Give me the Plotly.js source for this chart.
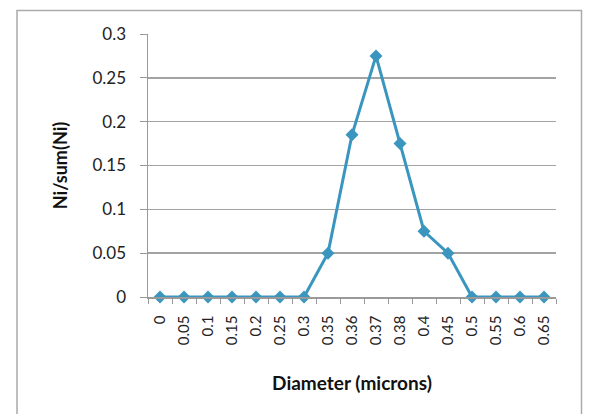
<!DOCTYPE html>
<html>
<head>
<meta charset="utf-8">
<script src="https://cdn.plot.ly/plotly-3.0.1.min.js"></script>
<style>
html,body{margin:0;padding:0;background:#fff;}
#chart{width:590px;height:414px;}
</style>
</head>
<body>
<div id="chart"></div>
<script>
var diameters = ['0','0.05','0.1','0.15','0.2','0.25','0.3','0.35','0.36','0.37','0.38','0.4','0.45','0.5','0.55','0.6','0.65'];
var fractions = [0,0,0,0,0,0,0,0.05,0.185,0.275,0.175,0.075,0.05,0,0,0,0];
var yTicks = [0,0.05,0.1,0.15,0.2,0.25,0.3];
var yTickText = ['0','0.05','0.1','0.15','0.2','0.25','0.3'];

var W = 590, H = 414;
var m = {l:148, r:34, t:34, b:116.5};
var pw = W - m.l - m.r, ph = H - m.t - m.b;
function px(x){ return (x - m.l)/pw; }
function py(y){ return (H - m.b - y)/ph; }

var trace = {
  x: diameters,
  y: fractions,
  type: 'scatter',
  mode: 'lines+markers',
  line: {color:'#3a96bf', width:3},
  marker: {symbol:'diamond', size:10, color:'#3a96bf'},
  cliponaxis: false,
  hoverinfo: 'x+y'
};

var layout = {
  width: W, height: H,
  margin: m,
  paper_bgcolor: '#fff',
  plot_bgcolor: '#fff',
  showlegend: false,
  font: {family: 'Lato, "Open Sans", sans-serif', color:'#222'},
  xaxis: {
    type: 'category',
    range: [-0.5, diameters.length - 0.5],
    tickangle: -90,
    tickson: 'boundaries',
    ticks: 'outside',
    ticklen: 5,
    tickcolor: '#999',
    tickwidth: 1,
    showgrid: false,
    showline: true,
    linecolor: '#999',
    linewidth: 1.5,
    tickfont: {size: 15, family:'Lato, sans-serif', color:'#222'},
    ticklabelstandoff: 11,
    zeroline: false,
    title: {text: 'Diameter (microns)', font: {size: 19, family:'Lato, sans-serif', color:'#111', weight: 'bold'}, standoff: 32},
    automargin: false,
    fixedrange: true
  },
  yaxis: {
    range: [0, 0.3],
    tickvals: yTicks,
    ticktext: yTickText,
    ticks: 'outside',
    ticklen: 7,
    tickcolor: '#999',
    tickwidth: 1,
    showgrid: true,
    gridcolor: '#a3a3a3',
    gridwidth: 1.5,
    showline: true,
    linecolor: '#999',
    linewidth: 1.5,
    zeroline: false,
    tickfont: {size: 17, family:'Lato, sans-serif', color:'#222'},
    ticklabelstandoff: 10,
    title: {text: 'Ni/sum(Ni)', font: {size: 18, family:'Lato, sans-serif', color:'#111', weight: 'bold'}, standoff: 20},
    automargin: false,
    fixedrange: true
  },
  shapes: [{
    type: 'rect', xref: 'paper', yref: 'paper',
    x0: px(17), x1: px(581.5), y0: py(430), y1: py(10.5),
    line: {color:'#aaaaaa', width:1.5}, fillcolor: 'rgba(0,0,0,0)', layer: 'below'
  }]
};

Plotly.newPlot('chart', [trace], layout, {displayModeBar:false, staticPlot:true});
</script>
</body>
</html>
